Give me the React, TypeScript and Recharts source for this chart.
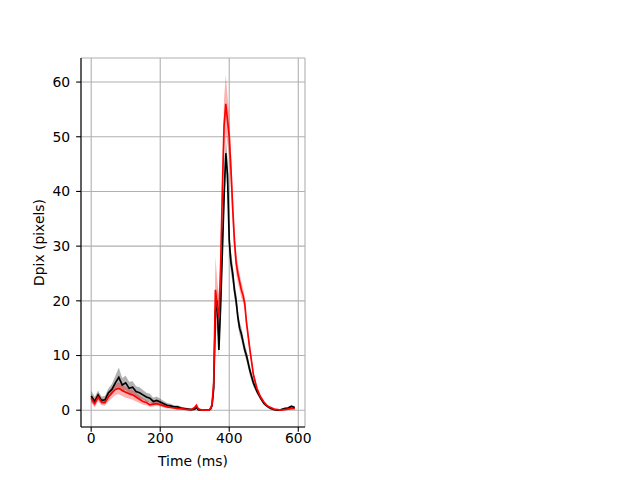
import React from 'react';
import { ComposedChart, Area, Line, XAxis, YAxis, CartesianGrid, Label } from 'recharts';

const time = [
  0, 10, 20, 30, 40, 50, 60, 70, 80, 90,
  100, 110, 120, 130, 140, 150, 160, 170, 180, 190,
  200, 210, 220, 230, 240, 250, 260, 270, 280, 290,
  300, 305, 310, 320, 330, 340,
  345, 350, 355, 360, 365, 370, 375, 380, 385, 390, 395,
  400, 405, 410, 415, 420, 425, 430, 435, 440, 445, 450,
  460, 470, 480, 490, 500, 510, 520, 530, 540, 550, 560, 570, 580, 590,
];

const blackMean = [
  2.6, 1.6, 2.8, 1.8, 1.9, 3.2, 3.8, 5.0, 6.0, 4.6,
  5.0, 4.0, 4.2, 3.4, 3.2, 2.8, 2.4, 2.2, 1.6, 1.8,
  1.5, 1.2, 0.9, 0.8, 0.6, 0.6, 0.4, 0.3, 0.2, 0.1,
  0.2, 0.5, 0.1, 0.0, 0.0, 0.0,
  0.2, 0.8, 4, 18, 20, 11, 19, 29, 39, 47, 43,
  31, 27, 25, 22, 20, 17, 15, 14, 12.5, 11, 10,
  7.2, 5.0, 3.5, 2.3, 1.3, 0.7, 0.3, 0.1, 0.0, 0.1, 0.3, 0.4, 0.7, 0.5,
];

const blackErr = [
  1.0, 0.8, 0.8, 0.7, 0.7, 0.8, 1.0, 1.3, 1.8, 1.3,
  1.3, 1.2, 1.1, 1.0, 1.0, 0.9, 0.8, 0.8, 0.7, 0.7,
  0.6, 0.5, 0.4, 0.4, 0.3, 0.3, 0.3, 0.2, 0.2, 0.2,
  0.2, 0.3, 0.2, 0.1, 0.1, 0.1,
  0.2, 0.5, 1.0, 2.0, 2.5, 1.5, 2.0, 3.0, 3.0, 3.0, 3.0,
  2.5, 2.0, 1.8, 1.5, 1.5, 1.3, 1.2, 1.2, 1.1, 1.0, 1.0,
  0.9, 0.7, 0.5, 0.4, 0.3, 0.2, 0.1, 0.1, 0.1, 0.1, 0.2, 0.2, 0.3, 0.2,
];

const redMean = [
  2.2, 1.2, 2.4, 1.5, 1.4, 2.4, 3.2, 3.8, 4.0, 3.6,
  3.3, 3.0, 2.8, 2.4, 2.0, 1.6, 1.4, 1.0, 1.1, 1.2,
  1.0, 0.8, 0.6, 0.5, 0.4, 0.3, 0.3, 0.2, 0.1, 0.1,
  0.5, 0.9, 0.3, 0.0, 0.0, 0.0,
  0.2, 1.0, 5, 22, 19, 17, 26, 40, 52, 56, 53,
  50, 44, 37, 31, 27, 25, 23.5, 22, 21, 19.5, 16,
  11, 6.5, 4.0, 2.5, 1.5, 0.8, 0.5, 0.2, 0.1, 0.0, 0.1, 0.2, 0.3, 0.3,
];

const redErr = [
  0.8, 0.7, 0.8, 0.6, 0.6, 0.8, 1.0, 1.0, 1.1, 1.0,
  1.0, 0.9, 0.9, 0.8, 0.7, 0.6, 0.5, 0.4, 0.4, 0.4,
  0.3, 0.3, 0.3, 0.2, 0.2, 0.2, 0.2, 0.1, 0.1, 0.1,
  0.3, 0.3, 0.2, 0.1, 0.1, 0.1,
  0.2, 1.0, 3.0, 6.0, 5.0, 4.0, 4.0, 4.0, 5.0, 5.3, 4.5,
  4.0, 3.5, 3.0, 2.5, 2.0, 1.8, 1.5, 1.5, 1.3, 1.2, 1.0,
  0.9, 0.7, 0.5, 0.4, 0.3, 0.2, 0.1, 0.1, 0.1, 0.1, 0.1, 0.1, 0.1, 0.1,
];

const xTicks = [0, 200, 400, 600];
const yTicks = [0, 10, 20, 30, 40, 50, 60];

const rows = time.map((t, i) => ({
  t,
  k: blackMean[i],
  kBand: [blackMean[i] - blackErr[i], blackMean[i] + blackErr[i]],
  r: redMean[i],
  rBand: [redMean[i] - redErr[i], redMean[i] + redErr[i]],
}));

const tickFont = { fill: '#000', fontSize: 13.9, fontFamily: 'DejaVu Sans' };

export default function App() {
  return (
    <div style={{ position: 'absolute', left: 0, top: 0 }}>
      <ComposedChart
        width={640}
        height={480}
        data={rows}
        margin={{ top: 58, right: 335, bottom: 0, left: 0 }}
      >
        <CartesianGrid stroke="#b0b0b0" strokeWidth={1.1} />
        <XAxis
          dataKey="t"
          type="number"
          domain={[-29.5, 619.5]}
          ticks={xTicks}
          allowDataOverflow
          height={53}
          tickSize={4.86}
          tickMargin={1}
          stroke="#000"
          tick={tickFont}
          tickLine={{ stroke: '#000', strokeWidth: 1.1 }}
          axisLine={{ stroke: '#000', strokeWidth: 1.1 }}
        >
          <Label value="Time (ms)" position="insideBottom" offset={14} style={{ fill: '#000', fontSize: 13.9, fontFamily: 'DejaVu Sans' }} />
        </XAxis>
        <XAxis
          xAxisId="top"
          orientation="top"
          dataKey="t"
          type="number"
          domain={[-29.5, 619.5]}
          height={0}
          tick={false}
          tickLine={false}
          axisLine={{ stroke: '#000', strokeWidth: 1.1 }}
        />
        <YAxis
          type="number"
          domain={[-3.07, 64.4]}
          ticks={yTicks}
          allowDataOverflow
          width={81}
          tickSize={4.86}
          tickMargin={6}
          stroke="#000"
          tick={tickFont}
          tickLine={{ stroke: '#000', strokeWidth: 1.1 }}
          axisLine={{ stroke: '#000', strokeWidth: 1.1 }}
        >
          <Label
            value="Dpix (pixels)"
            angle={-90}
            position="insideLeft"
            offset={38.7}
            style={{ textAnchor: 'middle', fill: '#000', fontSize: 13.9, fontFamily: 'DejaVu Sans' }}
          />
        </YAxis>
        <YAxis
          yAxisId="right"
          orientation="right"
          type="number"
          domain={[-3.07, 64.4]}
          width={0}
          tick={false}
          tickLine={false}
          axisLine={{ stroke: '#000', strokeWidth: 1.1 }}
        />
        <Area
          dataKey="kBand"
          type="linear"
          fill="#000000"
          fillOpacity={0.3}
          stroke="none"
          isAnimationActive={false}
          activeDot={false}
        />
        <Line
          dataKey="k"
          type="linear"
          stroke="#000000"
          strokeWidth={1.7}
          dot={false}
          isAnimationActive={false}
          activeDot={false}
        />
        <Area
          dataKey="rBand"
          type="linear"
          fill="#ff0000"
          fillOpacity={0.3}
          stroke="none"
          isAnimationActive={false}
          activeDot={false}
        />
        <Line
          dataKey="r"
          type="linear"
          stroke="#ff0000"
          strokeWidth={1.7}
          dot={false}
          isAnimationActive={false}
          activeDot={false}
        />
      </ComposedChart>
    </div>
  );
}
